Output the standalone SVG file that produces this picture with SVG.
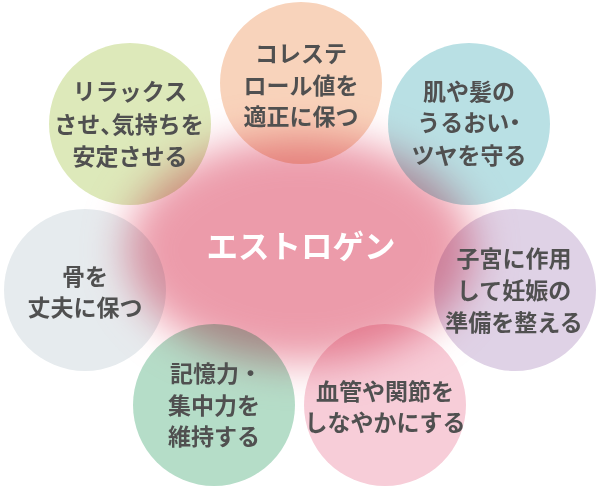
<svg xmlns="http://www.w3.org/2000/svg" width="600" height="491" viewBox="0 0 600 491">
  <defs>
    <filter id="blur" x="-40%" y="-40%" width="180%" height="180%">
      <feGaussianBlur stdDeviation="20"/>
    </filter>
    <style>
      .c { mix-blend-mode: multiply; }
      .t { font-family: "Noto Sans CJK JP", "Noto Sans", sans-serif; font-weight: 700; font-size: 23px; fill: #505050; text-anchor: middle; }
      .h { font-feature-settings: "halt"; }
      .m { font-family: "Noto Sans CJK JP", "Noto Sans", sans-serif; font-weight: 700; font-size: 31.5px; fill: #ffffff; text-anchor: middle; }
    </style>
  </defs>
  <rect width="600" height="491" fill="#ffffff"/>
  <g id="center">
    <ellipse cx="300" cy="250" rx="174" ry="113" fill="#ec9baa" filter="url(#blur)"/>
  </g>
  <g id="node-cholesterol">
    <circle class="c" cx="301" cy="83" r="81" fill="#f8d3bb"/>
    <text class="t" x="301" y="62">コレステ</text>
    <text class="t" x="301" y="94">ロール値を</text>
    <text class="t" x="301" y="125">適正に保つ</text>
  </g>
  <g id="node-relax">
    <circle class="c" cx="130" cy="124" r="81" fill="#dde9ba"/>
    <text class="t" x="130" y="100">リラックス</text>
    <text class="t h" x="129" y="133">させ、気持ちを</text>
    <text class="t" x="130" y="165">安定させる</text>
  </g>
  <g id="node-skin">
    <circle class="c" cx="469" cy="124" r="81" fill="#b9e0e4"/>
    <text class="t" x="469" y="100">肌や髪の</text>
    <text class="t h" x="469" y="131">うるおい・</text>
    <text class="t" x="469" y="164">ツヤを守る</text>
  </g>
  <g id="node-bone">
    <circle class="c" cx="85" cy="290" r="81" fill="#e6ebee"/>
    <text class="t" x="85" y="285">骨を</text>
    <text class="t" x="85" y="316">丈夫に保つ</text>
  </g>
  <g id="node-uterus">
    <circle class="c" cx="515" cy="290" r="81" fill="#dfd2e6"/>
    <text class="t" x="514" y="267">子宮に作用</text>
    <text class="t" x="514" y="299">して妊娠の</text>
    <text class="t" x="514" y="331">準備を整える</text>
  </g>
  <g id="node-memory">
    <circle class="c" cx="214" cy="405" r="81" fill="#b5ddc8"/>
    <text class="t" x="216" y="382">記憶力・</text>
    <text class="t" x="214" y="414">集中力を</text>
    <text class="t" x="214" y="445">維持する</text>
  </g>
  <g id="node-vessel">
    <circle class="c" cx="385" cy="405" r="81" fill="#f7cdd8"/>
    <text class="t" x="385" y="400">血管や関節を</text>
    <text class="t" x="385" y="431">しなやかにする</text>
  </g>
  <g id="connectors"/>
  <text class="m" x="301" y="258">エストロゲン</text>
</svg>
